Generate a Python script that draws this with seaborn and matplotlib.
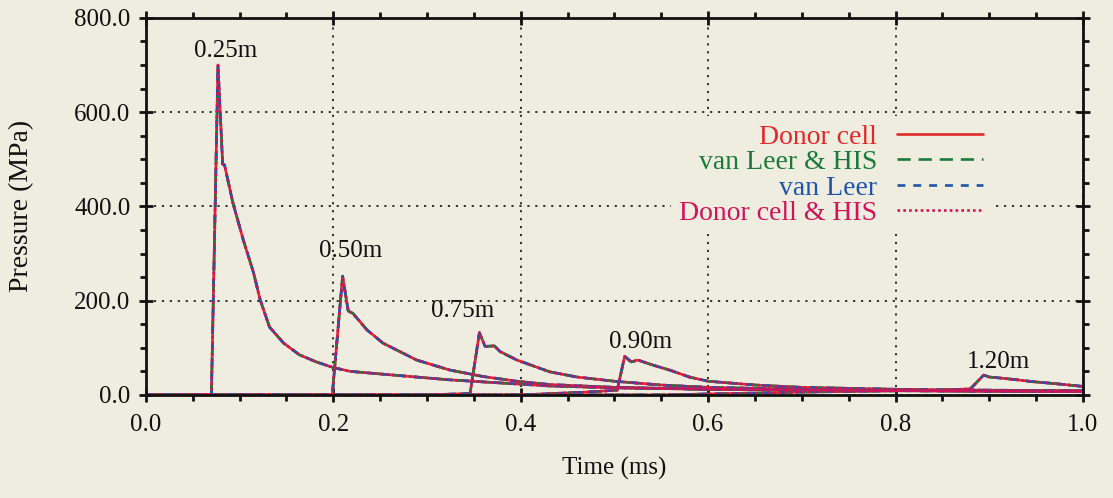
import numpy as np
import pandas as pd
import matplotlib
matplotlib.use("Agg")
import matplotlib.pyplot as plt
from matplotlib.lines import Line2D
from matplotlib.ticker import MultipleLocator, FormatStrFormatter
import seaborn as sns

# Pressure histories at five gauge distances (time in ms, pressure in MPa)
t_025 = [0.0, 0.070, 0.077, 0.082, 0.084, 0.093, 0.104, 0.115, 0.122, 0.132, 0.147,
         0.164, 0.182, 0.200, 0.218, 0.253, 0.324, 0.431, 0.500, 0.600, 0.800, 1.000]
p_025 = [0.0, 0.0, 700, 490, 488, 407, 329, 259, 202, 144, 110,
         85, 70, 58, 50, 44, 32, 19, 15, 12, 9, 7]

t_050 = [0.0, 0.199, 0.210, 0.216, 0.221, 0.236, 0.253, 0.289, 0.324, 0.360,
         0.396, 0.431, 0.500, 0.600, 0.800, 1.000]
p_050 = [0.0, 0.0, 252, 178, 173, 138, 110, 74, 53, 39,
         29, 22, 16, 12, 9, 7]

t_075 = [0.0, 0.300, 0.346, 0.356, 0.362, 0.372, 0.378, 0.396, 0.431, 0.460, 0.500,
         0.550, 0.600, 0.700, 0.800, 1.000]
p_075 = [0.0, 0.0, 3.0, 132, 103, 104, 92, 74, 49, 38, 29,
         21, 16, 12, 10, 8]

t_090 = [0.0, 0.400, 0.470, 0.503, 0.511, 0.518, 0.525, 0.540, 0.560, 0.580, 0.600,
         0.650, 0.700, 0.800, 0.900, 1.000]
p_090 = [0.0, 0.0, 6.0, 10.0, 82, 70, 74, 64, 52, 38, 29,
         21, 16, 12, 10, 9]

t_120 = [0.0, 0.550, 0.700, 0.850, 0.880, 0.894, 0.900, 0.911, 0.930, 0.947, 0.970, 1.000]
p_120 = [0.0, 0.0, 6.0, 10.0, 13.0, 42, 38, 36, 32, 28, 24, 18]

gauges = ["0.25m", "0.50m", "0.75m", "0.90m", "1.20m"]
gauge_times = [t_025, t_050, t_075, t_090, t_120]
gauge_pressures = [p_025, p_050, p_075, p_090, p_120]

# Label anchor for each gauge (time, pressure)
label_t = [0.085, 0.219, 0.338, 0.528, 0.910]
label_p = [730, 305, 178, 113, 70]

methods = ["Donor cell", "van Leer & HIS", "van Leer", "Donor cell & HIS"]
method_colors = ["#e02a2a", "#1c7a3a", "#1f55a8", "#d0145a"]
method_styles = ["-", (0, (5, 3)), (0, (3, 3)), (0, (1, 1.2))]

x_ticks = [0.0, 0.2, 0.4, 0.6, 0.8, 1.0]
y_ticks = [0.0, 200.0, 400.0, 600.0, 800.0]

# Long-form table: one row per (method, gauge, sample)
rows = []
for m in methods:
    for g, ts, ps in zip(gauges, gauge_times, gauge_pressures):
        for t, p in zip(ts, ps):
            rows.append((m, g, t, p))
df = pd.DataFrame(rows, columns=["method", "gauge", "time", "pressure"])

bg = "#efece0"
ink = "#111111"
sns.set_theme(style="ticks")
plt.rcParams["font.family"] = ["Liberation Serif", "DejaVu Serif"]

fig, ax = plt.subplots(figsize=(11.13, 4.98), dpi=100)
fig.patch.set_facecolor(bg)
ax.set_facecolor(bg)
fig.subplots_adjust(left=0.131, right=0.973, bottom=0.207, top=0.964)

for m, c, ls in zip(methods, method_colors, method_styles):
    sns.lineplot(data=df[df["method"] == m], x="time", y="pressure",
                 units="gauge", estimator=None, color=c, linestyle=ls,
                 linewidth=1.9, legend=False, ax=ax)

for g, tx, py in zip(gauges, label_t, label_p):
    ax.text(tx, py, g, ha="center", va="center", fontsize=18, color=ink)

ax.set_xlim(0.0, 1.0)
ax.set_ylim(0.0, 800.0)
ax.set_xticks(x_ticks)
ax.set_yticks(y_ticks)
ax.xaxis.set_major_formatter(FormatStrFormatter("%.1f"))
ax.yaxis.set_major_formatter(FormatStrFormatter("%.1f"))
ax.xaxis.set_minor_locator(MultipleLocator(0.05))
ax.yaxis.set_minor_locator(MultipleLocator(50))

ax.grid(True, which="major", color="#222222", linestyle=(0, (1.2, 3.2)), linewidth=1.3)
ax.set_axisbelow(True)

for s in ax.spines.values():
    s.set_visible(True)
    s.set_color(ink)
    s.set_linewidth(2.0)

ax.tick_params(which="major", direction="inout", length=10, width=2,
               top=True, right=True, labelsize=18, colors=ink)
ax.tick_params(axis="x", which="major", pad=9)
ax.tick_params(axis="y", which="major", pad=6)
ax.tick_params(which="minor", direction="out", length=4, width=2,
               top=True, right=True, colors=ink)

ax.set_xlabel("Time (ms)", fontsize=18, color=ink, va="center")
ax.set_ylabel("Pressure (MPa)", fontsize=20, color=ink, va="center")
ax.xaxis.set_label_coords(0.5, -0.195)
ax.yaxis.set_label_coords(-0.133, 0.5)

handles = [Line2D([], [], color=c, linestyle=ls, linewidth=1.9)
           for c, ls in zip(method_colors, method_styles)]
leg = ax.legend(handles, methods, loc="upper right", bbox_to_anchor=(0.902, 0.74),
                markerfirst=False, labelcolor=method_colors, fontsize=20,
                handlelength=3.1, handletextpad=0.7, labelspacing=0.0,
                borderpad=0.3, borderaxespad=0.0, frameon=True, fancybox=False)
leg.get_frame().set_facecolor(bg)
leg.get_frame().set_edgecolor("none")
leg.get_frame().set_alpha(1.0)

fig.savefig("out.png", dpi=100, facecolor=bg)
